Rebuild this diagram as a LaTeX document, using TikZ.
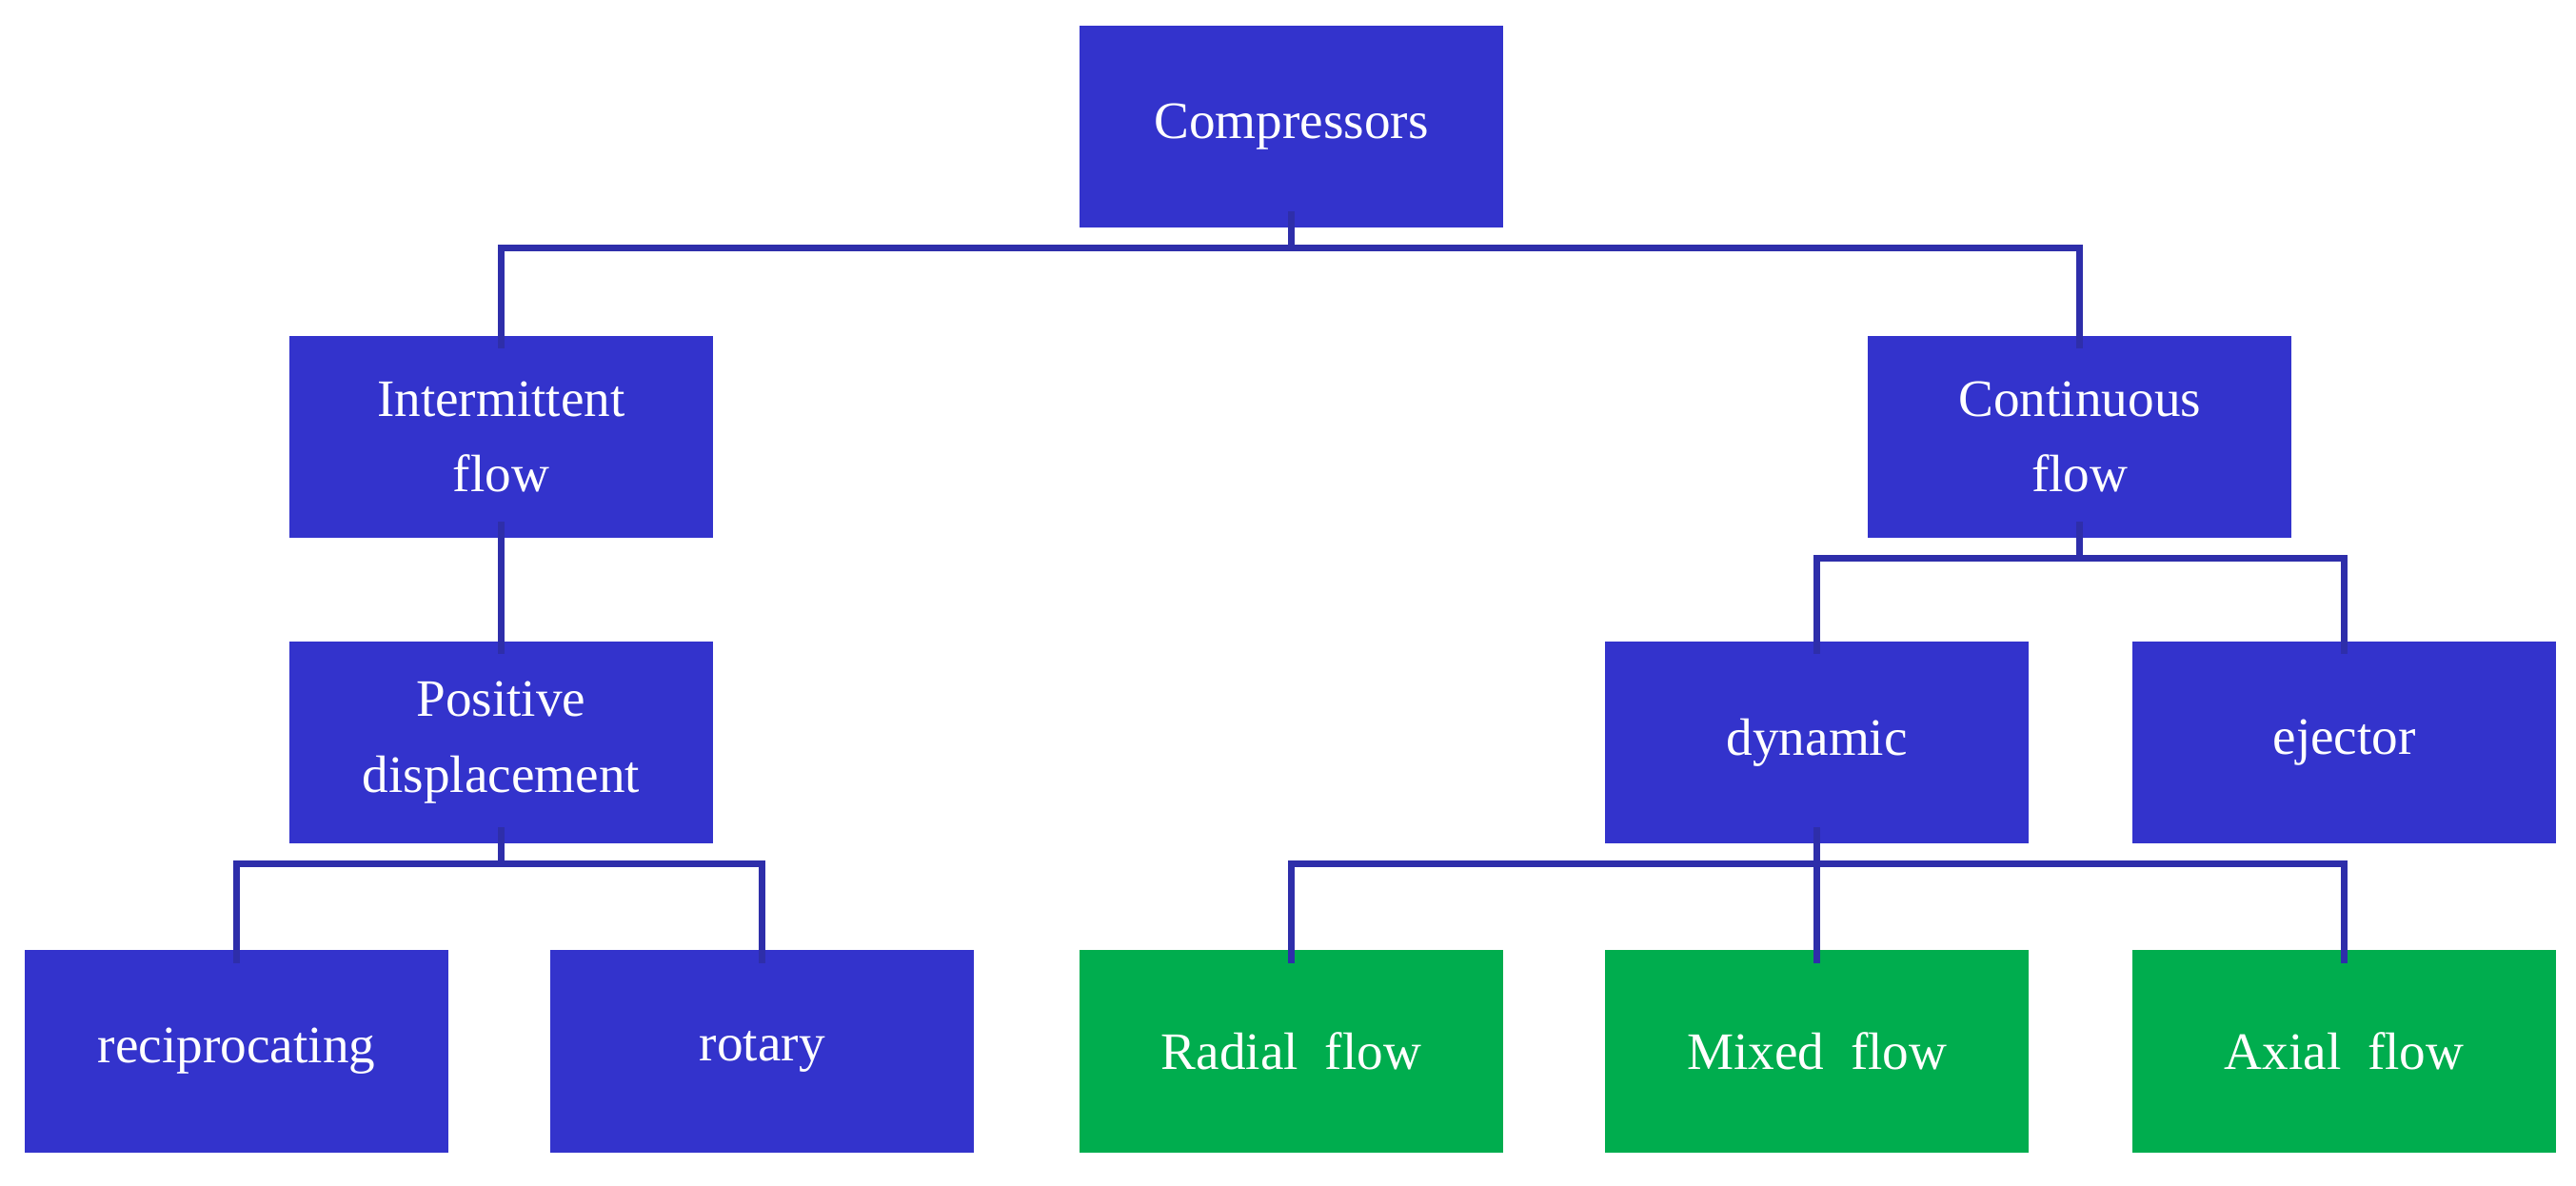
\documentclass[tikz,border=0pt]{standalone}
\usepackage{fontspec}
\setmainfont{Liberation Serif}
\definecolor{bb}{HTML}{3333CC}
\definecolor{gg}{HTML}{00AD4E}
\definecolor{ln}{HTML}{2E2EAA}
\begin{document}
\begin{tikzpicture}[x=1pt,y=-1pt,
 box/.style={fill=bb,draw=none,minimum width=258pt,minimum height=123pt,text=white,align=center,font=\fontsize{32}{46}\selectfont,inner sep=0pt},
 gbox/.style={box,fill=gg},
 conn/.style={draw=ln,line width=4pt}]
\useasboundingbox (0,0) rectangle (1568,722);
\node[box] (comp) at (786,77) {Compressors};
\node[box] (inter) at (305,266) {Intermittent\\flow};
\node[box] (cont) at (1266,266) {Continuous\\flow};
\node[box] (pos) at (305,452) {Positive\\displacement};
\node[box] (dyn) at (1106,452) {dynamic};
\node[box] (ej) at (1427,452) {ejector};
\node[box] (rec) at (144,640) {reciprocating};
\node[box] (rot) at (464,640) {rotary};
\node[gbox] (rad) at (786,640) {Radial\ \ flow};
\node[gbox] (mix) at (1106,640) {Mixed\ \ flow};
\node[gbox] (ax) at (1427,640) {Axial\ \ flow};
\draw[conn] ([yshift=10pt]comp.south) -- ++(0,22) -| ([yshift=-8pt]inter.north);
\draw[conn] ([yshift=10pt]comp.south) -- ++(0,22) -| ([yshift=-8pt]cont.north);
\draw[conn] ([yshift=10pt]inter.south) -- ([yshift=-8pt]pos.north);
\draw[conn] ([yshift=10pt]cont.south) -- ++(0,22) -| ([yshift=-8pt]dyn.north);
\draw[conn] ([yshift=10pt]cont.south) -- ++(0,22) -| ([yshift=-8pt]ej.north);
\draw[conn] ([yshift=10pt]pos.south) -- ++(0,22) -| ([yshift=-8pt]rec.north);
\draw[conn] ([yshift=10pt]pos.south) -- ++(0,22) -| ([yshift=-8pt]rot.north);
\draw[conn] ([yshift=10pt]dyn.south) -- ++(0,22) -| ([yshift=-8pt]rad.north);
\draw[conn] ([yshift=10pt]dyn.south) -- ([yshift=-8pt]mix.north);
\draw[conn] ([yshift=10pt]dyn.south) -- ++(0,22) -| ([yshift=-8pt]ax.north);
\end{tikzpicture}
\end{document}
